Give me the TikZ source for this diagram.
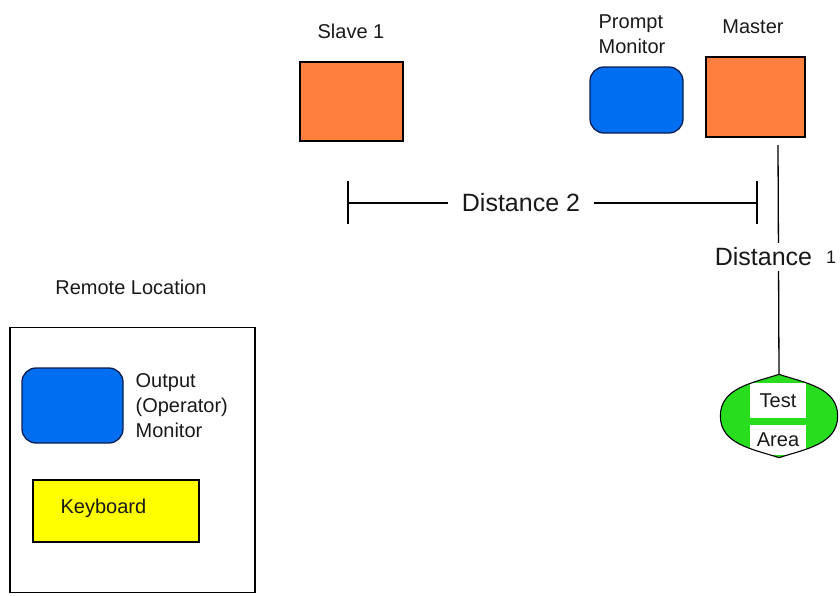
\documentclass[tikz,border=0pt]{standalone}
\usepackage{fontspec}
\setmainfont{Liberation Sans}
\definecolor{boxorange}{RGB}{255,128,62}
\definecolor{monblue}{RGB}{0,110,240}
\definecolor{monedge}{RGB}{10,30,80}
\definecolor{areagreen}{RGB}{40,220,30}
\definecolor{kbyellow}{RGB}{255,255,0}
\definecolor{ink}{RGB}{25,25,25}
\newcommand{\lblfont}{\fontsize{20}{25}\selectfont}
\newcommand{\dimfont}{\fontsize{25}{30}\selectfont}

\begin{document}
\begin{tikzpicture}[x=1pt, y=-1pt, line width=1.3pt,
  unitbox/.style={draw=black, fill=boxorange, inner sep=0pt},
  monitor/.style={draw=monedge, fill=monblue, rounded corners=14pt, inner sep=0pt},
  caption/.style={text=ink, font=\lblfont, inner sep=0pt},
  dimlabel/.style={text=ink, font=\dimfont, fill=white, inner xsep=14pt, inner ysep=8pt},
  areatag/.style={fill=white, text=ink, font=\lblfont, minimum width=56pt, inner sep=0pt}
]
\useasboundingbox (0,0) rectangle (840,595);

% top row: slave, prompt monitor, master
\node[unitbox, minimum width=103pt, minimum height=79pt] (slave) at (351.5,101.5) {};
\node[caption] (slavelbl) at (351,31) {Slave 1};

\node[monitor, minimum width=93pt, minimum height=66pt] (prompt) at (636.5,100) {};
\node[caption, align=left, anchor=west] (promptlbl) at (598,34) {Prompt\\Monitor};

\node[unitbox, minimum width=99pt, minimum height=80pt] (master) at (755.5,97) {};
\node[caption] (masterlbl) at (753,27) {Master};

% test area below the master
\node[minimum width=116pt, minimum height=82pt, inner sep=0pt] (test) at (779,416) {};
\fill[areagreen] (test.north) to[out=198,in=90] (test.west) to[out=-90,in=162] (test.south)
  to[out=18,in=-90] (test.east) to[out=90,in=-18] cycle;
\node[areatag, minimum height=35pt] (testtag) at (778,400.5) {Test};
\node[areatag, minimum height=30pt] (areatag) at (778,440) {Area};
\draw[black, line width=1.1pt] (test.north) to[out=198,in=90] (test.west) to[out=-90,in=162] (test.south)
  to[out=18,in=-90] (test.east) to[out=90,in=-18] cycle;

% distance 1: master down to the test area
\coordinate (d1top) at (778,145);
\draw (d1top) -- (test.north);
\node[dimlabel, inner xsep=3pt, inner ysep=5pt] (d1lbl) at (763.5,257) {Distance};
\node[text=ink, font=\fontsize{18}{20}\selectfont, inner sep=0pt] (d1num) at (831,257) {1};

% distance 2: slave to master
\coordinate (d2l) at (348,203);
\coordinate (d2r) at (757,203);
\draw (d2l) -- (d2r);
\draw ([yshift=-21pt]d2l) -- ([yshift=22pt]d2l);
\draw ([yshift=-21pt]d2r) -- ([yshift=22pt]d2r);
\node[dimlabel] (d2lbl) at (521,203) {Distance 2};

% remote location
\node[caption] (remotelbl) at (131,287) {Remote Location};
\node[draw=black, minimum width=245pt, minimum height=265pt, inner sep=0pt] (remote) at (132.5,460) {};
\node[monitor, minimum width=101pt, minimum height=75pt] (output) at (72.5,405.5) {};
\node[caption, align=left, anchor=west] (outputlbl) at (135,406) {Output\\(Operator)\\Monitor};
\node[draw=black, fill=kbyellow, minimum width=166pt, minimum height=62pt, inner sep=0pt] (keyboard) at (116,511) {};
\node[caption, anchor=west] (kblbl) at (60,508) {Keyboard};
\end{tikzpicture}
\end{document}
